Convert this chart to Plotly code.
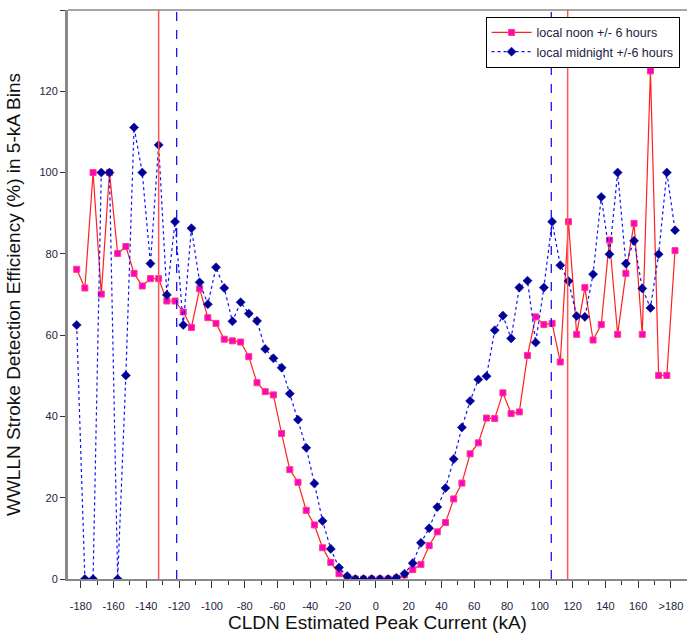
import plotly.graph_objects as go

# 5-kA bin centres (kA)
bin_centers = [-182.5, -177.5, -172.5, -167.5, -162.5, -157.5, -152.5, -147.5, -142.5, -137.5,
               -132.5, -127.5, -122.5, -117.5, -112.5, -107.5, -102.5, -97.5, -92.5, -87.5,
               -82.5, -77.5, -72.5, -67.5, -62.5, -57.5, -52.5, -47.5, -42.5, -37.5,
               -32.5, -27.5, -22.5, -17.5, -12.5, -7.5, -2.5, 2.5, 7.5, 12.5,
               17.5, 22.5, 27.5, 32.5, 37.5, 42.5, 47.5, 52.5, 57.5, 62.5,
               67.5, 72.5, 77.5, 82.5, 87.5, 92.5, 97.5, 102.5, 107.5, 112.5,
               117.5, 122.5, 127.5, 132.5, 137.5, 142.5, 147.5, 152.5, 157.5, 162.5,
               167.5, 172.5, 177.5, 182.5]

noon = [76.2, 71.6, 100, 70.1, 100, 80.1, 81.8, 75.2, 72.1, 73.9,
        73.9, 68.4, 68.4, 65.7, 61.9, 71.4, 64.3, 62.9, 59.0, 58.6,
        58.3, 54.7, 48.3, 46.1, 45.3, 35.8, 26.9, 23.8, 16.9, 13.3,
        7.7, 4.1, 1.3, 0.5, 0, 0, 0, 0, 0, 0.2,
        1.0, 2.3, 3.6, 8.2, 11.6, 13.9, 19.7, 23.6, 30.8, 33.5,
        39.6, 39.5, 45.8, 40.7, 41.1, 55.0, 64.5, 62.6, 62.9, 53.4,
        87.9, 60.2, 71.7, 58.8, 62.6, 83.4, 60.2, 75.2, 87.5, 60.2,
        125, 50.1, 50.1, 80.8]

midnight = [62.5, 0, 0, 100, 100, 0, 50.1, 111.1, 100, 77.6,
            106.8, 69.9, 87.9, 62.5, 86.3, 73.0, 67.6, 76.7, 71.6, 63.4,
            68.1, 65.3, 63.5, 56.6, 54.3, 52.0, 45.6, 39.2, 32.3, 23.5,
            14.3, 7.4, 2.8, 0.7, 0, 0, 0, 0, 0, 0.3,
            1.3, 3.9, 8.9, 12.5, 17.7, 22.4, 29.5, 37.3, 43.8, 49.1,
            49.9, 61.2, 64.8, 59.2, 71.7, 73.4, 58.2, 71.7, 87.9, 77.2,
            73.3, 64.7, 64.5, 75.0, 94.0, 79.9, 100, 77.6, 83.2, 71.5,
            66.7, 79.9, 100, 85.8]

# vertical reference lines (kA)
noon_limits = [-132.5, 117.0]
midnight_limits = [-121.5, 107.0]

x_tick_vals = [-180, -160, -140, -120, -100, -80, -60, -40, -20, 0, 20, 40, 60, 80, 100, 120, 140, 160, 180]
x_tick_text = ["-180", "-160", "-140", "-120", "-100", "-80", "-60", "-40", "-20", "0",
               "20", "40", "60", "80", "100", "120", "140", "160", ">180"]
x_minor_vals = [-170, -150, -130, -110, -90, -70, -50, -30, -10, 10, 30, 50, 70, 90, 110, 130, 150, 170]
y_tick_vals = [0, 20, 40, 60, 80, 100, 120, 140]
y_tick_text = ["0", "20", "40", "60", "80", "100", "120", ""]

FONT = "Liberation Sans, Arial, sans-serif"

fig = go.Figure()

fig.add_trace(go.Scatter(
    x=bin_centers, y=noon, mode="lines+markers", name="local noon +/- 6 hours",
    line=dict(color="#FF2020", width=1.2),
    marker=dict(symbol="square", size=6, color="#FF00CC", line=dict(color="#FF4070", width=1)),
))
fig.add_trace(go.Scatter(
    x=bin_centers, y=midnight, mode="lines+markers", name="local midnight +/-6 hours",
    line=dict(color="#1010FF", width=1.2, dash="dot"),
    marker=dict(symbol="diamond", size=7, color="#000099", line=dict(color="#000099", width=0.5)),
))

for v in noon_limits:
    fig.add_shape(type="line", xref="x", yref="paper", x0=v, x1=v, y0=0, y1=1,
                  line=dict(color="#FF5555", width=1.5))
for v in midnight_limits:
    fig.add_shape(type="line", xref="x", yref="paper", x0=v, x1=v, y0=0, y1=1,
                  line=dict(color="#0000FF", width=1.2, dash="dash"))

# top frame line
fig.add_shape(type="line", xref="paper", yref="paper", x0=0, x1=1, y0=1, y1=1,
              line=dict(color="#888888", width=1.5))

fig.update_layout(
    width=687, height=636,
    margin=dict(l=68, r=0, t=10, b=57, autoexpand=False),
    paper_bgcolor="white", plot_bgcolor="white",
    font=dict(family=FONT, size=12, color="#222222"),
    showlegend=True,
    legend=dict(x=0.988, y=0.988, xanchor="right", yanchor="top",
                bgcolor="white", bordercolor="#000000", borderwidth=1,
                font=dict(family=FONT, size=12.5, color="#222244"),
                tracegroupgap=0, itemwidth=40),
    xaxis=dict(range=[-187.8, 189.8], tickmode="array", tickvals=x_tick_vals, ticktext=x_tick_text,
               automargin=False,
               ticks="outside", ticklen=7, tickwidth=1, tickcolor="#333333",
               minor=dict(tickmode="array", tickvals=x_minor_vals, ticks="outside", ticklen=4,
                          tickcolor="#333333", tickwidth=1, showgrid=False),
               showline=True, linecolor="#888888", linewidth=2,
               showgrid=False, zeroline=False,
               tickfont=dict(family=FONT, size=11, color="#222244"),
               ticklabelstandoff=9,
               title=dict(text="CLDN Estimated Peak Current (kA)", standoff=2,
                          font=dict(family=FONT, size=19, color="#111111"))),
    yaxis=dict(range=[0, 140], tickmode="array", tickvals=y_tick_vals, ticktext=y_tick_text,
               automargin=False,
               ticks="outside", ticklen=5, tickwidth=1, tickcolor="#333333",
               showline=True, linecolor="#888888", linewidth=3,
               showgrid=False, zeroline=False,
               tickfont=dict(family=FONT, size=11, color="#222244"),
               title=dict(text="WWLLN Stroke Detection Efficiency (%) in 5-kA Bins", standoff=14,
                          font=dict(family=FONT, size=19, color="#111111"))),
)

fig.write_html("out.html", config={"displayModeBar": False},
               post_script="document.body.style.margin='0';document.body.style.overflow='hidden';")
